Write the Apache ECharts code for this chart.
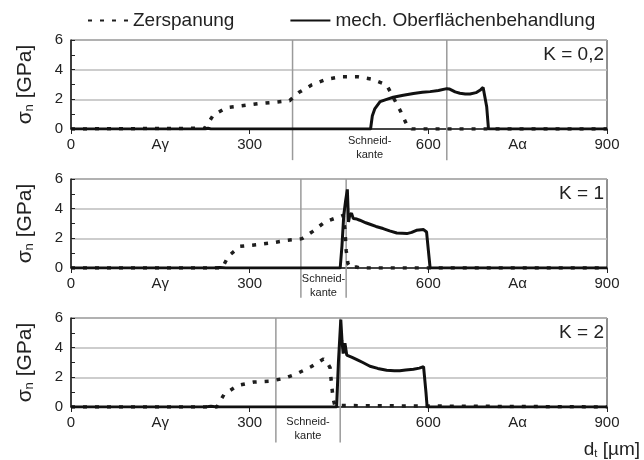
<!DOCTYPE html>
<html><head><meta charset="utf-8">
<script src="https://cdn.jsdelivr.net/npm/echarts@6/dist/echarts.min.js"></script>
<style>html,body{margin:0;padding:0;background:#fff}#c{width:644px;height:460px}</style>
</head><body><div id="c"></div>
<script>
// ---- data ----
const panelLabels = ['K = 0,2', 'K = 1', 'K = 2'];
const xTickLabels = {0:'0', 150:'A\u03b3', 300:'300', 600:'600', 750:'A\u03b1', 900:'900'};

const zerX_K02 = [0, 225, 239, 261, 287, 314, 341, 367, 383, 404, 429, 455, 481, 506, 530, 553, 564, 572, 900];
const zerY_K02 = [0, 0.05, 0.94, 1.44, 1.57, 1.71, 1.80, 1.91, 2.47, 2.97, 3.35, 3.53, 3.53, 3.35, 2.97, 1.23, 0.27, 0, 0];
const mecX_K02 = [0, 225, 230, 235, 503, 506, 510, 519, 530, 541, 558, 575, 590, 603, 617, 631, 635, 645, 653, 662, 670, 680, 688, 692, 695, 698, 701, 900];
const mecY_K02 = [0, 0, 0.05, 0, 0, 0.9, 1.35, 1.84, 2.0, 2.14, 2.28, 2.4, 2.47, 2.52, 2.6, 2.72, 2.7, 2.5, 2.41, 2.36, 2.36, 2.45, 2.65, 2.8, 2.7, 1.5, 0, 0];

const zerX_K1 = [0, 254, 264, 284, 312, 336, 364, 388, 406, 426, 450, 457, 460, 462, 465, 470, 479, 485, 900];
const zerY_K1 = [0, 0, 0.79, 1.46, 1.57, 1.69, 1.87, 1.98, 2.47, 3.10, 3.45, 3.55, 2.6, 1.2, 0.3, 0, 0.07, 0, 0];
const mecX_K1 = [0, 240, 250, 260, 452, 455, 458, 461, 464, 466, 468, 471, 474, 480, 485, 495, 502, 512, 524, 535, 547, 556, 564, 572, 580, 588, 592, 597, 600, 603, 900];
const mecY_K1 = [0, 0, 0.04, 0, 0, 1.5, 3.56, 4.5, 5.3, 3.1, 3.56, 3.7, 3.33, 3.3, 3.22, 3.05, 2.95, 2.8, 2.66, 2.5, 2.36, 2.34, 2.32, 2.4, 2.54, 2.58, 2.59, 2.43, 1.2, 0, 0];

const zerX_K2 = [0, 245, 257, 280, 307, 333, 357, 379, 403, 424, 430, 435, 437, 440, 443, 446, 900];
const zerY_K2 = [0, 0, 0.85, 1.45, 1.68, 1.74, 1.92, 2.24, 2.71, 3.24, 3.0, 2.65, 1.74, 0.6, 0.1, 0, 0];
const mecX_K2 = [0, 225, 235, 245, 446, 449, 453, 455, 457, 460, 463, 466, 472, 480, 490, 502, 515, 530, 543, 552, 562, 575, 585, 592, 594, 596, 598, 900];
const mecY_K2 = [0, 0, 0.05, 0, 0, 3.0, 5.9, 4.5, 3.6, 4.3, 3.5, 3.6, 3.35, 3.2, 3.0, 2.75, 2.6, 2.48, 2.45, 2.45, 2.5, 2.55, 2.62, 2.72, 2.6, 1.0, 0, 0];

// cutting-edge zone boundaries (µm)
const edge_K02 = [372, 631];
const edge_K1 = [386, 462];
const edge_K2 = [344, 452];
const edgeLabel = 'Schneid-\nkante';

const zerXs = [zerX_K02, zerX_K1, zerX_K2], zerYs = [zerY_K02, zerY_K1, zerY_K2];
const mecXs = [mecX_K02, mecX_K1, mecX_K2], mecYs = [mecY_K02, mecY_K1, mecY_K2];
const edges = [edge_K02, edge_K1, edge_K2];
// how far the zone lines / labels reach below the axis (in axis units)
const edgeLineEnd = [-2.1, -2.0, -2.4];
const edgeLabelAt = [-1.3, -1.2, -1.5];

const zip = (xs, ys) => xs.map((x, i) => [x, ys[i]]);
const FONT = '"Liberation Sans", Arial, sans-serif';

const gridTops = [40, 179, 318];
const grids = gridTops.map(t => ({left: 71, right: 37, top: t, height: 89, show: true, borderColor: '#222', borderWidth: 1, backgroundColor: 'transparent'}));

const xAxes = [0,1,2].map(i => ({
  type: 'value', gridIndex: i, min: 0, max: 900, interval: 150,
  axisLine: {lineStyle: {color: '#222', width: 1.5}},
  axisTick: {show: true, length: 5, lineStyle: {color: '#222'}, customValues: [0, 300, 600, 900]},
  axisLabel: {color: '#222', fontSize: 15, fontFamily: FONT, margin: 8, customValues: [0, 150, 300, 600, 750, 900],
    formatter: v => xTickLabels[v] !== undefined ? xTickLabels[v] : ''},
  splitLine: {show: false}
}));

const yAxes = [0,1,2].map(i => ({
  type: 'value', gridIndex: i, min: 0, max: 6, interval: 2,
  name: '{s|\u03c3}{sub|n}{s| [GPa]}', nameLocation: 'middle', nameGap: 35, nameRotate: 90,
  nameTextStyle: {rich: {s: {fontSize: 21, fontFamily: FONT, color: '#222'}, sub: {fontSize: 13, fontFamily: FONT, color: '#222', verticalAlign: 'bottom', padding: [9,0,0,0]}}},
  axisLine: {show: true, lineStyle: {color: '#222', width: 1.5}},
  axisTick: {show: true, inside: true, length: 4, lineStyle: {color: '#222'}},
  minorTick: {show: true, splitNumber: 2, length: 4, lineStyle: {color: '#222'}},
  axisLabel: {color: '#222', fontSize: 15, fontFamily: FONT, margin: 8},
  splitLine: {show: true, lineStyle: {color: '#bdbdbd', width: 1.5}}
}));

const series = [];
[0,1,2].forEach(i => {
  series.push({
    name: 'Zerspanung', type: 'line', xAxisIndex: i, yAxisIndex: i, symbol: 'none', z: 3,
    data: zip(zerXs[i], zerYs[i]),
    lineStyle: {color: '#1e1e1e', width: 3.5, type: [4, 8]},
    itemStyle: {color: '#1e1e1e'}
  });
  series.push({
    name: 'mech. Oberflächenbehandlung', type: 'line', xAxisIndex: i, yAxisIndex: i, symbol: 'none', z: 4,
    data: zip(mecXs[i], mecYs[i]),
    lineStyle: {color: '#111', width: 3, type: 'solid'},
    itemStyle: {color: '#111'}
  });
});

const graphic = panelLabels.map((t, i) => ({
  id: 'k' + i, type: 'text', right: 40, top: gridTops[i] + 5,
  style: {text: t, fontSize: 19, fontFamily: FONT, fill: '#222', textAlign: 'right'}
}));
graphic.push({
  id: 'xname', type: 'text', right: 4, bottom: 1,
  style: {rich: {s: {fontSize: 19, fontFamily: FONT, fill: '#222'}, sub: {fontSize: 11, fontFamily: FONT, fill: '#222', padding: [8,0,0,0]}},
    text: '{s|d}{sub|t}{s| [µm]}'}
});

const chart = echarts.init(document.getElementById('c'), null, {renderer: 'canvas'});
chart.setOption({
  animation: false,
  textStyle: {fontFamily: FONT},
  legend: {
    top: 6, left: 82, itemWidth: 40, itemHeight: 12, itemGap: 55,
    itemStyle: {opacity: 0},
    textStyle: {fontSize: 19, fontFamily: FONT, color: '#222'},
    data: ['Zerspanung', 'mech. Oberflächenbehandlung']
  },
  grid: grids, xAxis: xAxes, yAxis: yAxes, series: series, graphic: graphic
});

// zone lines and labels placed through the axes' own scales
const extra = [];
[0,1,2].forEach(i => {
  edges[i].forEach((e, j) => {
    const p1 = chart.convertToPixel({gridIndex: i}, [e, 6]);
    const p2 = chart.convertToPixel({gridIndex: i}, [e, edgeLineEnd[i]]);
    extra.push({id: 'edge' + i + '_' + j, type: 'line', z: 1, silent: true,
      shape: {x1: p1[0], y1: p1[1], x2: p2[0], y2: p2[1]},
      style: {stroke: '#9a9a9a', lineWidth: 1.5}});
  });
  const c = chart.convertToPixel({gridIndex: i}, [(edges[i][0] + edges[i][1]) / 2, edgeLabelAt[i]]);
  extra.push({id: 'edgelab' + i, type: 'text', z: 5, silent: true, x: c[0], y: c[1],
    style: {text: edgeLabel, fontSize: 11, lineHeight: 14, fontFamily: FONT, fill: '#222', align: 'center', verticalAlign: 'middle'}});
});
chart.setOption({graphic: extra});
</script></body></html>
